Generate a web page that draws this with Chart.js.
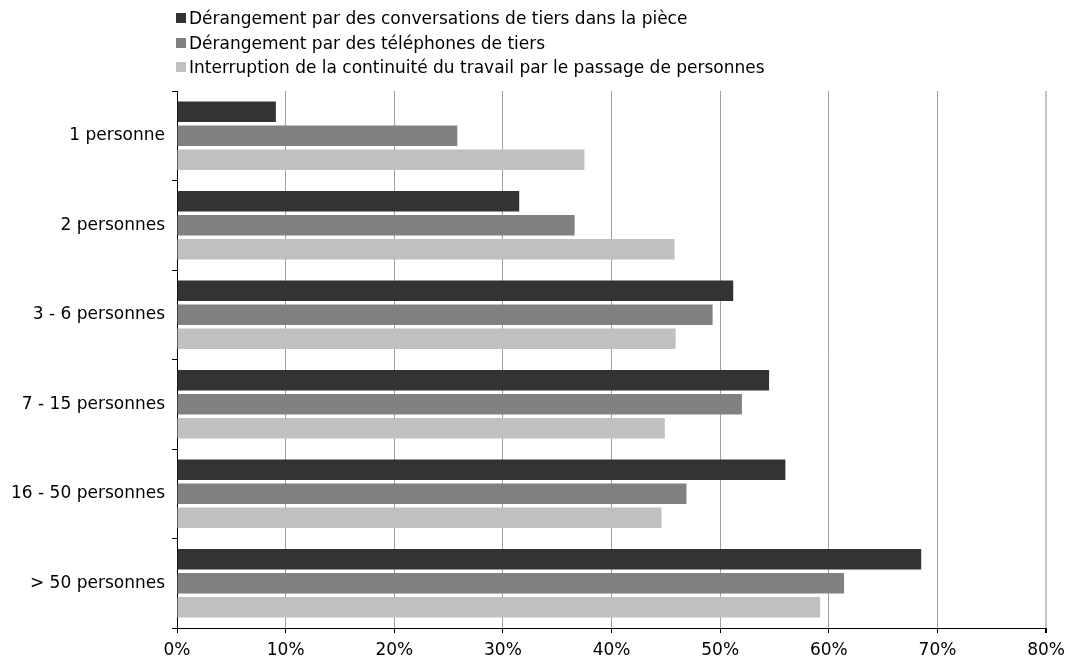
<!DOCTYPE html>
<html>
<head>
<meta charset="utf-8">
<script src="https://cdn.jsdelivr.net/npm/chart.js@4.4.0/dist/chart.umd.min.js"></script>
<style>
    html, body { margin: 0; padding: 0; background: #fff; }
    #wrap { position: relative; width: 1072px; height: 659px; }
    #legend {
        position: absolute; left: 176px; top: 6px;
        font-family: 'DejaVu Sans', Verdana, sans-serif; font-size: 17px; color: #000;
    }
    .item { height: 24.5px; display: flex; align-items: center; }
    .box { width: 10px; height: 10px; margin-right: 3px; }
</style>
</head>
<body>
<div id="wrap">
    <canvas id="chart" width="1072" height="659"></canvas>
    <div id="legend"></div>
</div>
<script>
// --- données ---
const categories = ['1 personne', '2 personnes', '3 - 6 personnes', '7 - 15 personnes', '16 - 50 personnes', '> 50 personnes'];
const seriesNames = [
    'Dérangement par des conversations de tiers dans la pièce',
    'Dérangement par des téléphones de tiers',
    'Interruption de la continuité du travail par le passage de personnes'
];
const conversations = [9.1, 31.5, 51.2, 54.5, 56.0, 68.5];
const telephones = [25.8, 36.6, 49.3, 52.0, 46.9, 61.4];
const passage = [37.5, 45.8, 45.9, 44.9, 44.6, 59.2];
const xTicks = [0, 10, 20, 30, 40, 50, 60, 70, 80];

const colors = ['#333333', '#808080', '#c0c0c0'];
const font = { family: "'DejaVu Sans', Verdana, sans-serif", size: 17 };

const makeSet = (label, data, color) => ({
    label: label,
    data: data,
    backgroundColor: color,
    borderWidth: 0,
    categoryPercentage: 0.803,
    barPercentage: 0.85
});

const chart = new Chart(document.getElementById('chart'), {
    type: 'bar',
    data: {
        labels: categories,
        datasets: [
            makeSet(seriesNames[0], conversations, colors[0]),
            makeSet(seriesNames[1], telephones, colors[1]),
            makeSet(seriesNames[2], passage, colors[2])
        ]
    },
    options: {
        indexAxis: 'y',
        responsive: false,
        devicePixelRatio: 1,
        animation: false,
        layout: { padding: { top: 91, right: 24, left: 0, bottom: 0 } },
        scales: {
            y: {
                grid: {
                    offset: true,
                    drawOnChartArea: false,
                    drawTicks: true,
                    tickLength: 5,
                    tickColor: '#000'
                },
                border: { display: true, color: '#000' },
                ticks: { color: '#000', font: font, padding: 7 },
                afterFit: (scale) => { scale.width = 177; }
            },
            x: {
                min: 0,
                max: 80,
                afterBuildTicks: (scale) => { scale.ticks = xTicks.map(v => ({ value: v })); },
                grid: {
                    color: (ctx) => ctx.tick && ctx.tick.value === 80 ? '#c4c4c4' : '#a0a0a0',
                    lineWidth: (ctx) => ctx.tick && ctx.tick.value === 80 ? 2 : 1,
                    drawTicks: true,
                    tickLength: 5,
                    tickColor: '#000'
                },
                border: { display: true, color: '#000' },
                ticks: {
                    color: '#000',
                    font: font,
                    padding: 7,
                    maxRotation: 0,
                    callback: (v) => v + '%'
                },
                afterFit: (scale) => { scale.height = 31; }
            }
        },
        plugins: {
            legend: { display: false },
            tooltip: { enabled: false }
        }
    }
});

// légende HTML construite à partir des datasets
const legendEl = document.getElementById('legend');
chart.data.datasets.forEach((ds) => {
    const item = document.createElement('div');
    item.className = 'item';
    const box = document.createElement('span');
    box.className = 'box';
    box.style.background = ds.backgroundColor;
    const txt = document.createElement('span');
    txt.textContent = ds.label;
    item.appendChild(box);
    item.appendChild(txt);
    legendEl.appendChild(item);
});
</script>
</body>
</html>
